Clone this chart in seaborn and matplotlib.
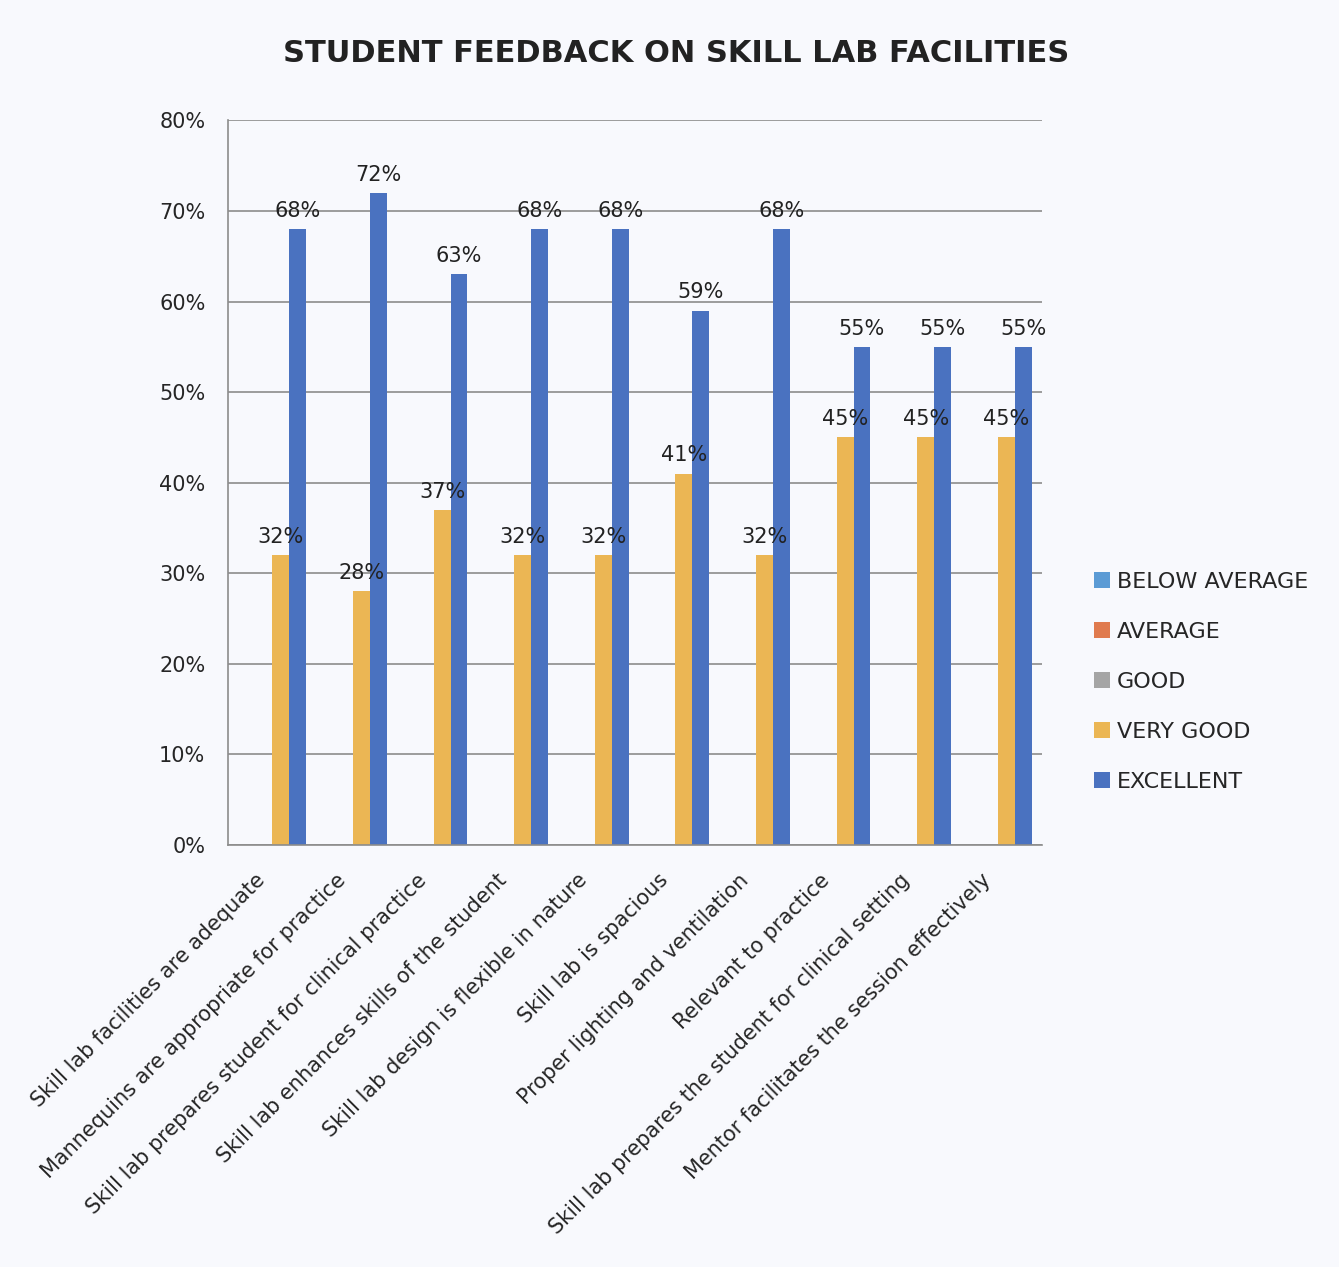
import pandas as pd
import matplotlib.pyplot as plt
import matplotlib.transforms as mtransforms
import seaborn as sns
from matplotlib.ticker import FuncFormatter

sns.set_style("white")
plt.rcParams['font.family'] = ['DejaVu Sans']

# Survey items and ratings (%)
items = [
    "Skill lab facilities are adequate",
    "Mannequins are appropriate for practice",
    "Skill lab prepares student for clinical practice",
    "Skill lab enhances skills of the student",
    "Skill lab design is flexible in nature",
    "Skill lab is spacious",
    "Proper lighting and ventilation",
    "Relevant to practice",
    "Skill lab prepares the student for clinical setting",
    "Mentor facilitates the session effectively",
]
ratings = ["BELOW AVERAGE", "AVERAGE", "GOOD", "VERY GOOD", "EXCELLENT"]
below_average = [0, 0, 0, 0, 0, 0, 0, 0, 0, 0]
average = [0, 0, 0, 0, 0, 0, 0, 0, 0, 0]
good = [0, 0, 0, 0, 0, 0, 0, 0, 0, 0]
very_good = [32, 28, 37, 32, 32, 41, 32, 45, 45, 45]
excellent = [68, 72, 63, 68, 68, 59, 68, 55, 55, 55]

colors = ["#5B9BD5", "#E07B4F", "#A5A5A5", "#EBB654", "#4A72C0"]

# long-form table
series = [below_average, average, good, very_good, excellent]
rows = []
for rating, vals in zip(ratings, series):
    for item, v in zip(items, vals):
        rows.append({"item": item, "rating": rating, "pct": v})
df = pd.DataFrame(rows)

fig = plt.figure(figsize=(13.39, 12.67), dpi=100)
fig.patch.set_facecolor("#F8F9FD")
ax = fig.add_axes([0.170, 0.333, 0.608, 0.572])
ax.set_facecolor("#F8F9FD")

sns.barplot(data=df, x="item", y="pct", hue="rating", hue_order=ratings,
            palette=colors, width=1.05, ax=ax, saturation=1, linewidth=0)

ax.set_ylim(0, 80)
ax.set_yticks(range(0, 81, 10))
ax.yaxis.set_major_formatter(FuncFormatter(lambda v, p: f"{v:.0f}%"))
ax.grid(axis="y", color="#8C8C8C", linewidth=1.2)
ax.set_axisbelow(True)
for s in ["top", "right"]:
    ax.spines[s].set_visible(False)
ax.spines["left"].set_color("#8C8C8C")
ax.spines["bottom"].set_color("#8C8C8C")
ax.spines["left"].set_linewidth(1.2)
ax.spines["bottom"].set_linewidth(1.2)
ax.tick_params(axis="y", labelsize=15, length=0, pad=16)
ax.tick_params(axis="x", labelsize=15, length=0, pad=18)
ax.set_xticks(range(len(items)))
ax.set_xticklabels(items, rotation=45, ha="right", rotation_mode="anchor")
offset = mtransforms.ScaledTranslation(-0.09, 0, fig.dpi_scale_trans)
for lab in ax.get_xticklabels():
    lab.set_transform(lab.get_transform() + offset)
ax.set_xlabel("")
ax.set_ylabel("")
ax.set_xlim(-0.45, len(items) - 0.35)

for cont in ax.containers[3:]:
    ax.bar_label(cont, fmt="%.0f%%", fontsize=15, padding=6, color="#222222")

ax.legend(loc="center left", bbox_to_anchor=(1.04, 0.225), frameon=False,
          fontsize=16, handlelength=0.7, handleheight=0.7, handletextpad=0.3,
          labelspacing=1.35)

fig.text(0.505, 0.958, "STUDENT FEEDBACK ON SKILL LAB FACILITIES",
         ha="center", va="center", fontsize=22, fontweight="bold", color="#222222")

fig.savefig("out.png", dpi=100, facecolor=fig.get_facecolor())
